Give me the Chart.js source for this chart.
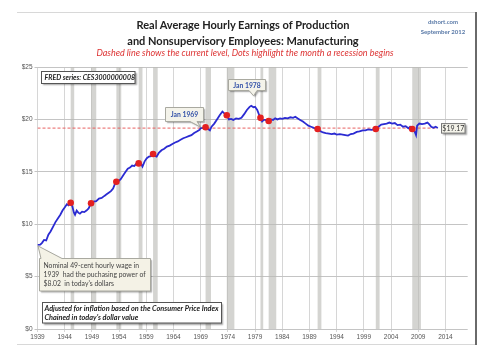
<!DOCTYPE html>
<html><head><meta charset="utf-8">
<script src="https://cdn.jsdelivr.net/npm/chart.js@4.4.0/dist/chart.umd.min.js"></script>
<style>
html,body{margin:0;padding:0;background:#fff;}
#wrap{position:relative;width:481px;height:360px;overflow:hidden;}
canvas{position:absolute;left:0;top:0;}
.t{position:absolute;font-family:Lato,'Open Sans',sans-serif;white-space:nowrap;}
#title{left:0;width:486px;top:17px;text-align:center;font-weight:bold;font-size:11px;line-height:15.7px;color:#222;}
#sub{left:0;width:490px;top:46.5px;text-align:center;font-style:italic;font-size:9px;line-height:11px;color:#d33;}
#src{left:413px;width:60px;top:17px;text-align:center;font-weight:bold;font-size:6px;line-height:10px;color:#5a7aa8;}
</style></head><body>
<div id="wrap">
<canvas id="c" width="481" height="360"></canvas>
<div class="t" id="title">Real Average Hourly Earnings of Production<br>and Nonsupervisory Employees: Manufacturing</div>
<div class="t" id="sub">Dashed line shows the current level, Dots highlight the month a recession begins</div>
<div class="t" id="src">dshort.com<br>September 2012</div>
</div>
<script>
// ---- data ----
const years = [1939.0,1939.5,1939.8,1940.2,1940.6,1941.0,1941.4,1941.9,1942.3,1942.8,1943.2,1943.6,1944.0,1944.4,1944.7,1945.1,1945.4,1945.7,1945.9,1946.2,1946.5,1946.8,1947.2,1947.6,1948.0,1948.4,1948.85,1949.3,1949.8,1950.3,1950.8,1951.3,1951.7,1952.1,1952.5,1952.9,1953.2,1953.5,1953.9,1954.3,1954.8,1955.2,1955.6,1956.0,1956.4,1956.8,1957.2,1957.6,1957.9,1958.3,1958.7,1959.1,1959.5,1959.9,1960.25,1960.6,1960.9,1961.3,1961.8,1962.3,1962.8,1963.3,1963.8,1964.3,1964.8,1965.3,1965.8,1966.3,1966.8,1967.3,1967.8,1968.3,1968.8,1969.0,1969.4,1969.9,1970.3,1970.7,1971.0,1971.5,1972.0,1972.5,1973.0,1973.3,1973.8,1974.2,1974.6,1975.0,1975.5,1976.0,1976.5,1977.0,1977.5,1978.0,1978.3,1978.7,1979.0,1979.4,1979.7,1980.0,1980.3,1980.6,1980.9,1981.2,1981.5,1981.9,1982.3,1982.7,1983.1,1983.6,1984.0,1984.5,1985.0,1985.5,1986.0,1986.4,1986.8,1987.3,1987.8,1988.3,1988.8,1989.3,1989.8,1990.5,1990.9,1991.5,1992.0,1992.6,1993.1,1993.6,1994.0,1994.6,1995.1,1995.6,1996.1,1996.6,1997.1,1997.7,1998.2,1998.8,1999.3,1999.8,2000.4,2001.2,2001.7,2002.2,2002.7,2003.2,2003.7,2004.2,2004.7,2005.2,2005.7,2006.2,2006.7,2007.2,2007.5,2007.9,2008.3,2008.6,2008.8,2009.2,2009.7,2010.2,2010.7,2011.0,2011.4,2011.8,2012.2,2012.6];
const earnings = [8.02,8.05,8.2,8.5,8.45,9.0,9.3,9.8,10.2,10.6,10.9,11.3,11.6,11.9,11.8,12.05,11.7,11.1,10.9,11.3,11.1,11.0,11.2,11.15,11.3,11.5,12.0,12.15,12.2,12.45,12.5,12.7,12.85,13.0,13.15,13.4,13.8,14.05,14.1,14.3,14.7,15.0,15.3,15.4,15.6,15.55,15.8,15.8,15.9,15.5,16.0,16.3,16.45,16.5,16.7,16.5,16.45,16.8,17.05,17.2,17.4,17.5,17.65,17.8,17.9,18.05,18.2,18.3,18.4,18.5,18.7,18.85,19.0,19.17,19.2,19.25,19.1,18.95,19.3,19.6,20.0,20.4,20.75,20.6,20.4,20.0,20.05,19.95,20.1,20.05,20.15,20.5,20.9,21.2,21.3,21.15,21.2,20.9,20.5,20.15,19.8,19.95,19.95,19.85,19.85,20.0,19.95,20.1,20.0,20.1,20.05,20.15,20.1,20.2,20.15,20.25,20.1,19.95,19.8,19.6,19.4,19.3,19.2,19.08,18.9,18.75,18.7,18.65,18.6,18.65,18.55,18.6,18.55,18.5,18.45,18.6,18.65,18.8,18.85,18.95,18.95,19.05,19.0,19.08,19.3,19.5,19.55,19.6,19.7,19.6,19.65,19.45,19.5,19.3,19.35,19.15,19.3,19.08,18.9,18.5,19.4,19.6,19.55,19.6,19.7,19.55,19.3,19.2,19.3,19.17];
const tickYears = [1939,1944,1949,1954,1959,1964,1969,1974,1979,1984,1989,1994,1999,2004,2009,2014];
const yTicks = [0,5,10,15,20,25];
const recessionStarts = [1945.1,1948.85,1953.5,1957.6,1960.25,1969.9,1973.8,1980.0,1981.5,1990.5,2001.2,2007.9];
const recessionEnds   = [1945.75,1949.8,1954.4,1958.3,1961.1,1970.9,1975.2,1980.5,1982.9,1991.2,2001.9,2009.5];
const currentLevel = 19.17;
const calloutYears = [1969.0,1978.0];
const calloutLabels = ['Jan 1969','Jan 1978'];
const noteLines = ['Nominal 49-cent hourly wage in','1939  had the puchasing power of','$8.02  in today\'s dollars'];
const adjLines = ['Adjusted for inflation based on the Consumer Price Index','Chained in today\'s dollar value'];
const fredLabel = 'FRED series: CES3000000008';

// ---- build ----
const linePts = years.map((x,i)=>({x:x,y:earnings[i]}));
const valAt = y => earnings[years.indexOf(y)];
const dotPts = recessionStarts.map(y=>({x:y,y:valAt(y)}));
const dashPts = [{x:years[0],y:currentLevel},{x:years[years.length-1],y:currentLevel}];

function bubble(ctx,x,y,w,h,tail){
  ctx.beginPath();
  ctx.moveTo(x,y);
  if(tail&&tail.edge==='top'){ctx.lineTo(tail.b1,y);ctx.lineTo(tail.tx,tail.ty);ctx.lineTo(tail.b2,y);}
  ctx.lineTo(x+w,y);ctx.lineTo(x+w,y+h);
  if(tail&&tail.edge==='bottom'){ctx.lineTo(tail.b2,y+h);ctx.lineTo(tail.tx,tail.ty);ctx.lineTo(tail.b1,y+h);}
  ctx.lineTo(x,y+h);ctx.closePath();
}
function shadowOn(ctx){ctx.shadowColor='rgba(0,0,0,0.35)';ctx.shadowBlur=1.5;ctx.shadowOffsetX=1.5;ctx.shadowOffsetY=1.5;}
function shadowOff(ctx){ctx.shadowColor='transparent';ctx.shadowBlur=0;ctx.shadowOffsetX=0;ctx.shadowOffsetY=0;}

const framePlugin = {
  id:'frame',
  beforeDraw(chart){
    const ctx=chart.ctx;ctx.save();
    ctx.fillStyle='#fff';ctx.fillRect(0,0,chart.width,chart.height);
    ctx.strokeStyle='#d8d8d8';ctx.lineWidth=1;
    ctx.beginPath();ctx.moveTo(17,12.5);ctx.lineTo(475,12.5);ctx.moveTo(17,344.5);ctx.lineTo(475,344.5);ctx.stroke();
    ctx.strokeStyle='#6a6a6a';ctx.lineWidth=2;
    ctx.beginPath();ctx.moveTo(476,12);ctx.lineTo(476,345);ctx.stroke();
    ctx.restore();
  }
};
const bandPlugin = {
  id:'bands',
  beforeDatasetsDraw(chart){
    const ctx=chart.ctx,xs=chart.scales.x,a=chart.chartArea;ctx.save();
    ctx.fillStyle='rgba(185,185,180,0.62)';
    recessionStarts.forEach((s,i)=>{
      const x1=xs.getPixelForValue(s),x2=xs.getPixelForValue(recessionEnds[i]);
      const w=Math.max(2.5,x2-x1);
      ctx.fillRect(x1,a.top,w,a.bottom-a.top);
    });
    ctx.restore();
  }
};
const notePlugin = {
  id:'notes',
  afterDatasetsDraw(chart){
    const ctx=chart.ctx,xs=chart.scales.x,ys=chart.scales.y;ctx.save();
    ctx.textBaseline='middle';
    // FRED box
    shadowOn(ctx);ctx.fillStyle='#fff';ctx.fillRect(41.5,71.5,93.5,12);shadowOff(ctx);
    ctx.strokeStyle='#555';ctx.lineWidth=1;ctx.strokeRect(41.5,71.5,93.5,12);
    ctx.fillStyle='#222';ctx.font='italic bold 7px Lato';ctx.textAlign='left';
    ctx.fillText(fredLabel,44.5,77.8);
    // Adjusted box
    shadowOn(ctx);ctx.fillStyle='#fff';ctx.fillRect(42.5,302.5,179,20.5);shadowOff(ctx);
    ctx.strokeStyle='#555';ctx.strokeRect(42.5,302.5,179,20.5);
    ctx.fillStyle='#222';ctx.font='italic bold 7.3px Lato';
    ctx.fillText(adjLines[0],44.5,309);ctx.fillText(adjLines[1],44.5,317.3);
    // callouts Jan 1969 / Jan 1978
    const cbox=[{x:165.5,y:107.5,w:38,h:14,b1:190,b2:197,dy:-1,dx:0},{x:228.5,y:79.5,w:37,h:11,b1:249,b2:257,dy:-11,dx:4}];
    calloutYears.forEach((yr,i)=>{
      const b=cbox[i];
      const tx=xs.getPixelForValue(yr)+b.dx, ty=ys.getPixelForValue(valAt(yr))+b.dy;
      bubble(ctx,b.x,b.y,b.w,b.h,{edge:'bottom',b1:b.b1,b2:b.b2,tx:tx,ty:ty});
      shadowOn(ctx);ctx.fillStyle='#f4f3ea';ctx.fill();shadowOff(ctx);
      ctx.strokeStyle='#a9a9a0';ctx.stroke();
      ctx.fillStyle='#3452a8';ctx.font='bold 6.8px Lato';ctx.textAlign='center';
      ctx.fillText(calloutLabels[i],b.x+b.w/2,b.y+b.h/2+0.5);
    });
    // nominal note
    const nx=xs.getPixelForValue(years[0])+0.5, ny=ys.getPixelForValue(earnings[0])+1;
    bubble(ctx,39.5,258.5,111,32.5,{edge:'top',b1:41,b2:62,tx:nx,ty:ny});
    shadowOn(ctx);ctx.fillStyle='#f4f2e6';ctx.fill();shadowOff(ctx);
    ctx.strokeStyle='#a9a9a0';ctx.stroke();
    ctx.fillStyle='#444';ctx.font='6.8px Lato';ctx.textAlign='left';
    noteLines.forEach((t,i)=>ctx.fillText(t,43.5,265.7+i*9.2));
    // current level label
    const ly=ys.getPixelForValue(currentLevel);
    shadowOn(ctx);ctx.fillStyle='#f4f3ea';ctx.fillRect(441.5,ly-4.5,23.5,9.5);shadowOff(ctx);
    ctx.strokeStyle='#777';ctx.strokeRect(441.5,ly-4.5,23.5,9.5);
    ctx.fillStyle='#333';ctx.font='7px Lato';ctx.textAlign='center';
    ctx.fillText('$'+currentLevel.toFixed(2),453.3,ly+0.5);
    ctx.restore();
  }
};

new Chart(document.getElementById('c'),{
  type:'line',
  data:{datasets:[
    {data:dotPts,showLine:false,pointRadius:3.3,pointBackgroundColor:'#e42020',pointBorderWidth:0,borderColor:'#e42020'},
    {data:linePts,borderColor:'#2b2bd2',borderWidth:1.8,pointRadius:0,tension:0},
    {data:dashPts,borderColor:'#e86060',borderWidth:1,borderDash:[3,2],pointRadius:0}
  ]},
  options:{
    responsive:false,animation:false,
    layout:{padding:{left:0,right:13.3,top:67,bottom:0}},
    plugins:{legend:{display:false},tooltip:{enabled:false},title:{display:false}},
    scales:{
      x:{type:'linear',min:1939,max:2018.1,
        afterBuildTicks:s=>{s.ticks=tickYears.map(v=>({value:v}));},
        afterFit:s=>{s.height=31;},
        ticks:{callback:v=>String(v),color:'#555',font:{family:'Liberation Sans',size:6.5},maxRotation:0,autoSkip:false,padding:1.5},
        grid:{color:'#d6d6d6',lineWidth:1,tickLength:3},
        border:{display:false}},
      y:{min:0,max:25,
        afterBuildTicks:s=>{s.ticks=yTicks.map(v=>({value:v}));},
        afterFit:s=>{s.width=37.5;},
        ticks:{callback:v=>'$'+v,color:'#555',font:{family:'Liberation Sans',size:6.5},padding:2},
        grid:{color:'#c4c4c4',lineWidth:1,tickLength:3},
        border:{display:false}}
    }
  },
  plugins:[framePlugin,bandPlugin,notePlugin]
});
</script>
</body></html>
